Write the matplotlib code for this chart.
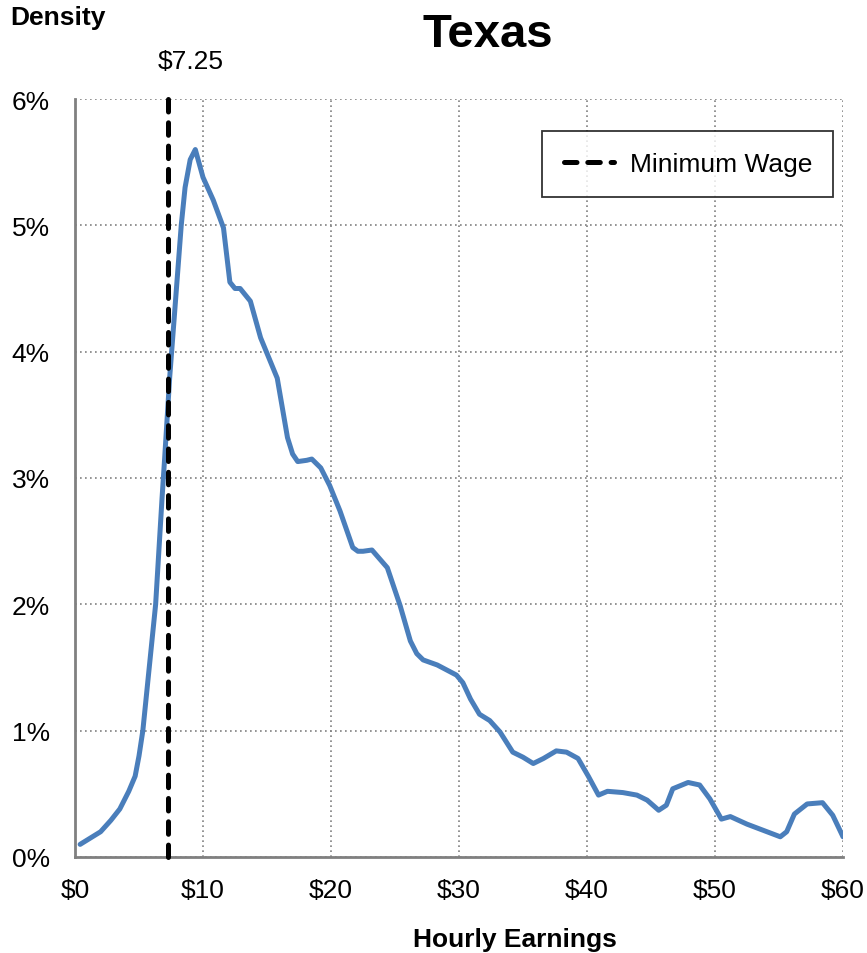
import matplotlib
matplotlib.use("Agg")
import matplotlib.pyplot as plt
from matplotlib.ticker import FuncFormatter

plt.rcParams['font.family'] = ['Liberation Sans', 'DejaVu Sans']

title = "Texas"
min_wage = 7.25
x_ticks = [0, 10, 20, 30, 40, 50, 60]
y_ticks = [0, 1, 2, 3, 4, 5, 6]

wage = [0.4, 1.2, 2.0, 2.8, 3.5, 4.2, 4.7, 5.0, 5.3, 5.8, 6.3, 6.8, 7.0, 7.4, 8.0, 8.3, 8.6,
        9.0, 9.4, 10.0, 10.8, 11.6, 12.1, 12.5, 12.9, 13.7, 14.5, 15.8, 16.6, 17.0, 17.4, 18.1,
        18.5, 19.2, 19.9, 20.7, 21.7, 22.1, 22.5, 23.2, 24.4, 25.4, 26.2, 26.7, 27.2, 28.3,
        29.8, 30.3, 30.9, 31.6, 32.4, 33.2, 34.2, 35.0, 35.8, 36.6, 37.6, 38.4, 39.3, 40.1,
        40.9, 41.6, 42.8, 43.9, 44.7, 45.6, 46.2, 46.7, 47.9, 48.8, 49.6, 50.5, 51.2, 52.5,
        53.8, 55.1, 55.6, 56.2, 57.2, 58.4, 59.2, 60.0]
density = [0.10, 0.15, 0.20, 0.29, 0.38, 0.52, 0.64, 0.80, 1.00, 1.50, 2.00, 2.84, 3.15, 3.80,
           4.60, 5.00, 5.30, 5.52, 5.60, 5.38, 5.20, 4.98, 4.55, 4.50, 4.50, 4.40, 4.11, 3.79,
           3.32, 3.19, 3.13, 3.14, 3.15, 3.08, 2.94, 2.74, 2.45, 2.42, 2.42, 2.43, 2.29, 1.99,
           1.71, 1.61, 1.56, 1.52, 1.44, 1.38, 1.25, 1.13, 1.08, 0.99, 0.83, 0.79, 0.74, 0.78,
           0.84, 0.83, 0.78, 0.64, 0.49, 0.52, 0.51, 0.49, 0.45, 0.37, 0.41, 0.54, 0.59, 0.57,
           0.46, 0.30, 0.32, 0.26, 0.21, 0.16, 0.20, 0.34, 0.42, 0.43, 0.33, 0.16]

fig = plt.figure(figsize=(8.67, 9.54), dpi=100)
ax = fig.add_axes([75/867, 1-858/954, 768/867, 758/954])

ax.plot(wage, density, color='#4A7EBB', lw=3.6, solid_capstyle='round',
        solid_joinstyle='round', zorder=3)
ax.plot([min_wage, min_wage], [y_ticks[-1], y_ticks[0]], color='black', lw=3.6,
        dashes=(2.5, 2.16), dash_capstyle='round', label='Minimum Wage', zorder=4,
        clip_on=False)

ax.set_xlim(0, 60)
ax.set_ylim(0, 6)
ax.set_xticks(x_ticks)
ax.set_yticks(y_ticks)
ax.xaxis.set_major_formatter(FuncFormatter(lambda v, p: f"${v:.0f}"))
ax.yaxis.set_major_formatter(FuncFormatter(lambda v, p: f"{v:.0f}%"))
ax.tick_params(length=0, labelsize=19)
ax.tick_params(axis='x', pad=15)
ax.tick_params(axis='y', pad=18)
ax.grid(True, color='#808080', ls=(0, (1, 2)), lw=1.2)
ax.set_axisbelow(True)
for s in ['top', 'right']:
    ax.spines[s].set_visible(False)
for s in ['left', 'bottom']:
    ax.spines[s].set_color('#808080')
    ax.spines[s].set_linewidth(2)

leg = ax.legend(loc='upper right', bbox_to_anchor=(833/867, 1-132/954),
                bbox_transform=fig.transFigure, fontsize=19, frameon=True, fancybox=False,
                handlelength=1.9, handletextpad=0.6, borderpad=0.8, borderaxespad=0)
leg.get_frame().set_edgecolor('black')
leg.get_frame().set_linewidth(1.3)

fig.text(488/867, 1-35/954, title, ha='center', va='center', fontsize=34, fontweight='bold')
fig.text(10/867, 1-18/954, "Density", ha='left', va='center', fontsize=19, fontweight='bold')
fig.text(515/867, 1-940/954, "Hourly Earnings", ha='center', va='center', fontsize=19,
         fontweight='bold')
ax.text(min_wage + 1.8, 6.3, f"${min_wage:.2f}", ha='center', va='center', fontsize=19)

fig.savefig("out.png", dpi=100)
